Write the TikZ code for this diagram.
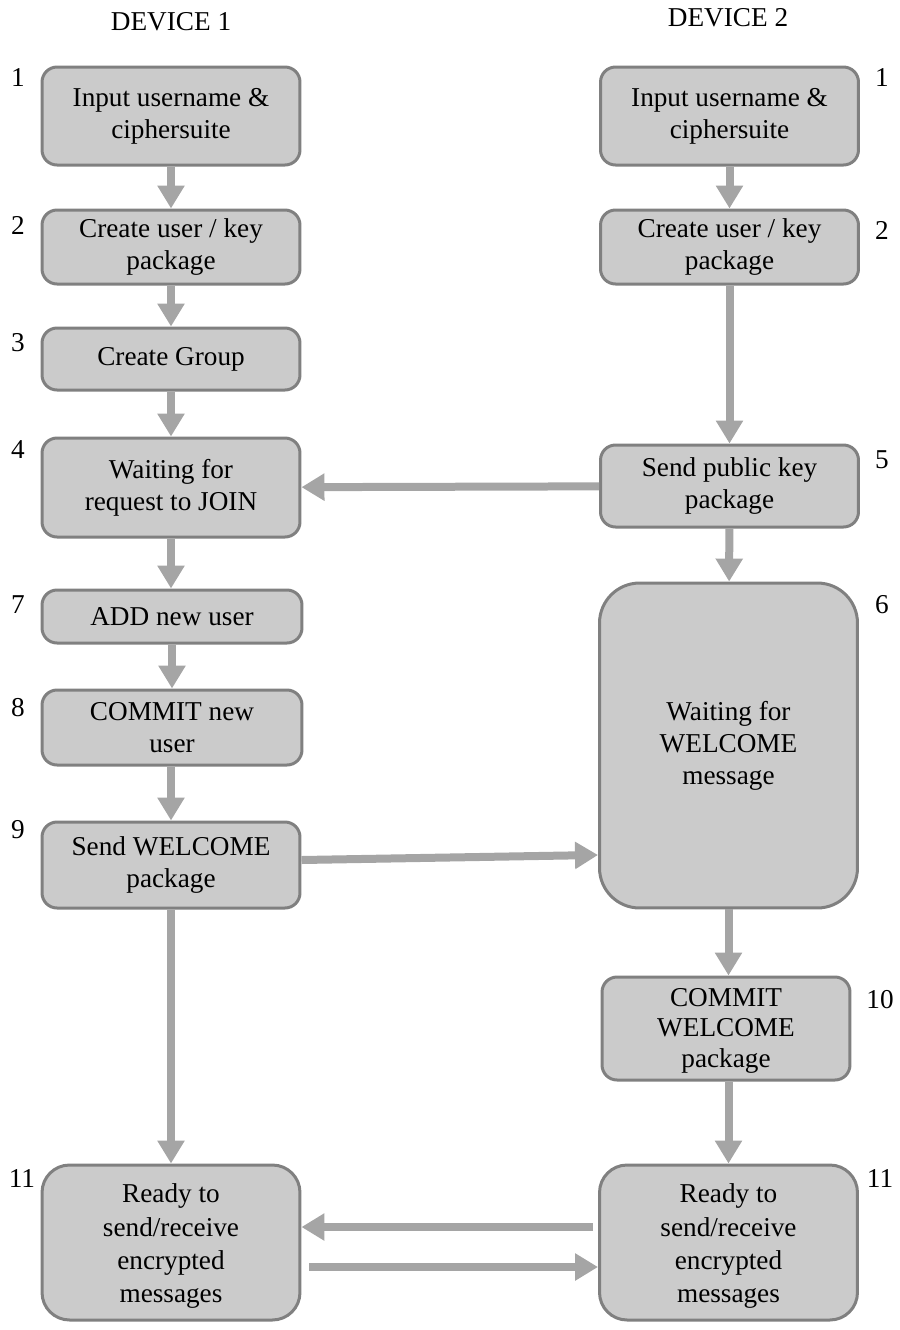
\documentclass[tikz,border=0pt]{standalone}
\usepackage{fontspec}
\setmainfont{Liberation Serif}
\usetikzlibrary{arrows.meta}
\definecolor{boxfill}{HTML}{CBCBCB}
\definecolor{boxline}{HTML}{808080}
\definecolor{flowgray}{HTML}{A5A5A5}
\newcommand{\labelfont}{\fontsize{15.5}{18.2}\selectfont}

\begin{document}
\begin{tikzpicture}[x=0.02cm,y=-0.02cm,
	flow/.style={line width=0.16cm,flowgray,-{Triangle[width=0.52cm,length=0.46cm]}}]
	\useasboundingbox (0,0) rectangle (900,1330);
	\begin{scope}[every node/.style={font=\labelfont}]
	\node (D1) at (171,22) {DEVICE 1};
	\node (D2) at (728,18) {DEVICE 2};
	\node (n1) at (18,78) {1};
	\node (n2) at (18,225) {2};
	\node (n3) at (18,343) {3};
	\node (n4) at (18,450) {4};
	\node (n7) at (18,605) {7};
	\node (n8) at (18,708) {8};
	\node (n9) at (18,830) {9};
	\node (n11) at (22,1178) {11};
	\node (m1) at (882,78) {1};
	\node (m2) at (882,230) {2};
	\node (m5) at (882,460) {5};
	\node (m6) at (882,605) {6};
	\node (m10) at (880,1000) {10};
	\node (m11) at (880,1178) {11};
	\end{scope}
	\begin{scope}[every node/.style={rectangle,rounded corners=0.3cm,draw=boxline,fill=boxfill,line width=0.06cm,align=center,inner sep=0pt,minimum width=5.16cm,font=\labelfont}]
	\node[minimum height=1.96cm] (L1) at (171,116) {Input username \&\\ciphersuite};
	\node[minimum height=1.48cm] (L2) at (171,247) {Create user / key\\package};
	\node[minimum height=1.24cm] (L3) at (171,359) {Create Group};
	\node[minimum height=1.98cm] (L4) at (171,487.5) {Waiting for\\request to JOIN};
	\node[minimum height=1.06cm,minimum width=5.2cm] (L7) at (172,616.5) {ADD new user};
	\node[minimum height=1.5cm,minimum width=5.2cm] (L8) at (172,727.5) {COMMIT new\\user};
	\node[minimum height=1.72cm] (L9) at (171,865) {Send WELCOME\\package};
	\node[minimum height=3.1cm,rounded corners=0.55cm,font=\fontsize{15.5}{19}\selectfont] (L11) at (171,1242.5) {\rule{0pt}{15pt}Ready to\\send/receive\\encrypted\\messages};
	\node[minimum height=1.96cm] (R1) at (729.5,116) {Input username \&\\ciphersuite};
	\node[minimum height=1.48cm] (R2) at (729.5,247) {Create user / key\\package};
	\node[minimum height=1.64cm] (R5) at (729.5,486) {Send public key\\package};
	\node[minimum height=6.5cm,rounded corners=0.8cm] (R6) at (728.5,745.5) {Waiting for\\WELCOME\\message};
	\node[minimum height=2.06cm,minimum width=4.96cm,font=\fontsize{15.5}{17.5}\selectfont] (R10) at (726,1028.5) {\rule{0pt}{13pt}COMMIT\\WELCOME\\package};
	\node[minimum height=3.1cm,rounded corners=0.55cm,font=\fontsize{15.5}{19}\selectfont] (R11) at (728.5,1242.5) {\rule{0pt}{15pt}Ready to\\send/receive\\encrypted\\messages};
	\end{scope}
	\draw [flow] (L1) -- (L2);
	\draw [flow] (L2) -- (L3);
	\draw [flow] (L3) -- (L4);
	\draw [flow] (L4.south) -- (L4.south |- L7.north);
	\draw [flow] (L7) -- (L8);
	\draw [flow] (L8.south -| L9.north) -- (L9.north);
	\draw [flow] (L9) -- (L11);
	\draw [flow] (R1) -- (R2);
	\draw [flow] (R2) -- (R5);
	\draw [flow] (R5) -- (L4);
	\draw [flow] (R5) -- (R6);
	\draw [flow] ([yshift=0.1cm]L9.east) -- ([yshift=-2.19cm]R6.west);
	\draw [flow] (R6.south) -- (R6.south |- R10.north);
	\draw [flow] (R10.south -| R11.north) -- (R11.north);
	\draw [flow] ([xshift=-0.1cm,yshift=0.31cm]R11.west) -- ([yshift=0.31cm]L11.east);
	\draw [flow] ([xshift=0.16cm,yshift=-0.49cm]L11.east) -- ([yshift=-0.49cm]R11.west);
\end{tikzpicture}
\end{document}
